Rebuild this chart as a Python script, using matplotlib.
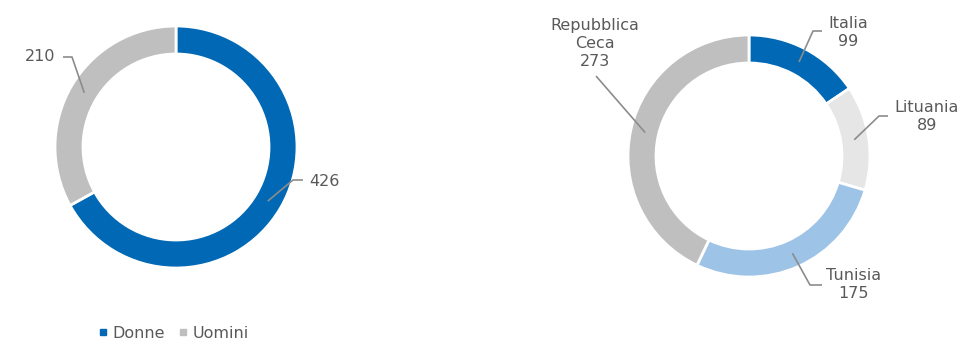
import numpy as np
import matplotlib
matplotlib.use('Agg')
import matplotlib.pyplot as plt
from matplotlib.lines import Line2D

# Dipendenti per genere e per nazionalità
genere = ['Donne', 'Uomini']
genere_val = [426, 210]
genere_col = ['#0068B4', '#BFBFBF']

paesi = ['Italia', 'Lituania', 'Tunisia', 'Repubblica\nCeca']
paesi_val = [99, 89, 175, 273]
paesi_col = ['#0068B4', '#E6E6E6', '#9DC3E6', '#BFBFBF']

W, H = 976, 347
TXT = '#595959'
LINE = '#8C8C8C'
plt.rcParams['font.family'] = ['DejaVu Sans']

fig = plt.figure(figsize=(W / 100, H / 100), dpi=100)
ax = fig.add_axes([0, 0, 1, 1])
ax.set_xlim(0, W)
ax.set_ylim(0, H)
ax.set_aspect('equal')
ax.axis('off')

R, RW = 121, 28


def ciambella(cx, cy, valori, colori):
    ax.pie(valori, colors=colori, center=(cx, cy), radius=R, startangle=90,
           counterclock=False, wedgeprops=dict(width=RW, edgecolor='white', linewidth=2),
           frame=True)
    # angolo medio di ogni spicchio, per gli ancoraggi delle etichette
    cum = np.cumsum([0] + list(valori))
    tot = cum[-1]
    ang = 90 - (cum[:-1] + cum[1:]) / 2 / tot * 360
    r = R - RW / 2 - 0.5
    return [(cx + r * np.cos(np.radians(a)), cy + r * np.sin(np.radians(a))) for a in ang]


def etichetta(p0, gomito, fine, testo, pos, ha='center'):
    xs = [p0[0], gomito[0]] + ([fine] if fine is not None else [])
    ys = [p0[1], gomito[1]] + ([gomito[1]] if fine is not None else [])
    ax.plot(xs, ys, color=LINE, lw=1.2, solid_capstyle='butt')
    ax.text(pos[0], pos[1], testo, ha=ha, va='center', color=TXT, fontsize=11.5,
            linespacing=1.25)


# grafico a sinistra: genere
cx1, cy1 = 176, H - 147
a1 = ciambella(cx1, cy1, genere_val, genere_col)
etichetta(a1[0], (293, H - 180), 303, str(genere_val[0]), (309, H - 181), ha='left')
etichetta(a1[1], (72, H - 57), 63, str(genere_val[1]), (55, H - 56), ha='right')

# grafico a destra: nazionalità
cx2, cy2 = 749, H - 156
a2 = ciambella(cx2, cy2, paesi_val, paesi_col)
etichetta(a2[0], (813, H - 31), 822, f'{paesi[0]}\n{paesi_val[0]}', (848, H - 32))
etichetta(a2[1], (879, H - 116), 888, f'{paesi[1]}\n{paesi_val[1]}', (927, H - 116))
etichetta(a2[2], (810, H - 285), 822, f'{paesi[2]}\n{paesi_val[2]}', (854, H - 284))
etichetta(a2[3], (596, H - 76), None, f'{paesi[3]}\n{paesi_val[3]}', (595, H - 43))

handles = [Line2D([], [], marker='s', ls='none', markersize=5, color=c) for c in genere_col]
ax.legend(handles, genere, loc='center', bbox_to_anchor=(172 / W, 14 / H), ncol=2,
          frameon=False, handletextpad=0.1, columnspacing=0.6, handlelength=1,
          labelcolor=TXT, prop=dict(size=11.5))

fig.savefig('out.png', dpi=100)
